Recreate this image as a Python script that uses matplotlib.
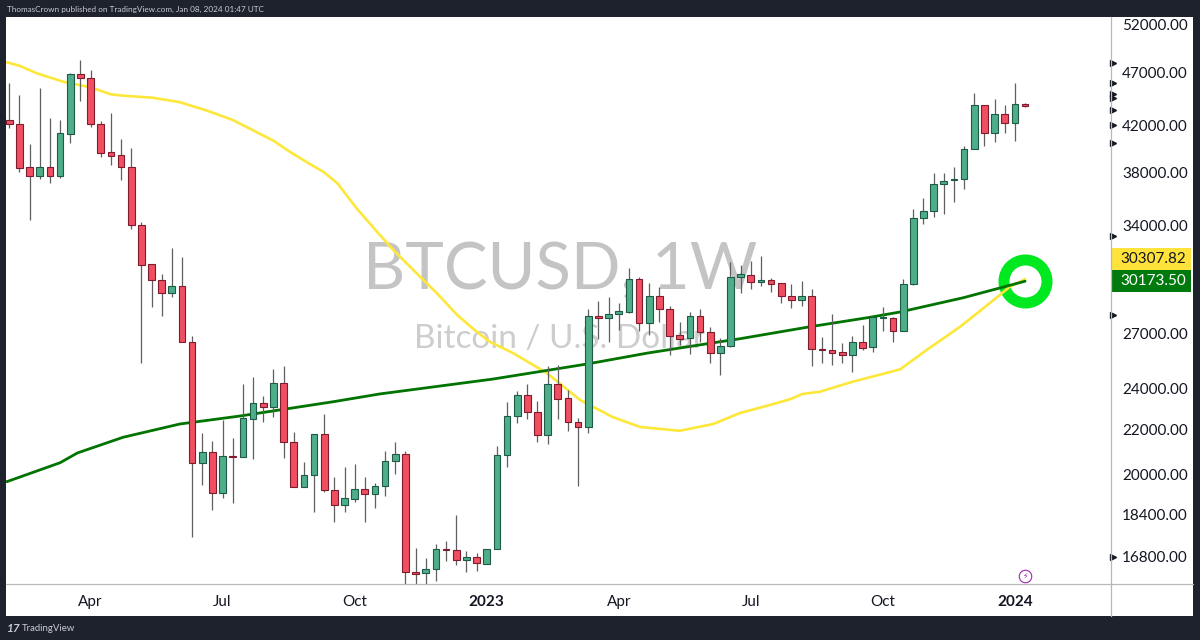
import matplotlib
matplotlib.use("Agg")
import matplotlib.pyplot as plt
from matplotlib.patches import Rectangle
from matplotlib.ticker import NullLocator

plt.rcParams["font.family"] = ["Lato", "DejaVu Sans"]

# weekly candles, Feb 2022 - Jan 2024
opens = [42500, 42110, 38430, 37730, 38430, 37750, 41280, 46860, 46460, 42160,
         39680, 39450, 38480, 33980, 31280, 30250, 29410, 29890, 26520, 20500,
         20990, 19230, 20830, 20760, 22530, 23280, 23110, 24290, 21460, 19500,
         19980, 21800, 19370, 18760, 19010, 19390, 19210, 19530, 20580, 20890,
         16270, 16220, 16380, 17070, 17050, 16690, 16780, 16560, 17070, 20850,
         22660, 23680, 22870, 21750, 24260, 23530, 22380, 22150, 28020, 27920,
         28140, 28280, 30290, 27590, 29220, 28460, 26900, 26720, 28020, 27110,
         25890, 26290, 30460, 30590, 30130, 30230, 30040, 29260, 29010, 29260,
         26140, 26070, 25950, 25780, 26500, 26220, 27900, 27900, 27150, 29980,
         34510, 35000, 37090, 37380, 37460, 39980, 43850, 41370, 43040, 42250,
         43940]
closes = [42110, 38350, 37730, 38430, 37750, 41310, 46860, 46430, 42140, 39650,
          39390, 38460, 33980, 31250, 30250, 29410, 29890, 26520, 20500, 20990,
          19230, 20830, 20770, 22550, 23280, 23110, 24290, 21460, 19500, 19980,
          21800, 19370, 18770, 19020, 19390, 19210, 19530, 20580, 20890, 16260,
          16210, 16380, 17070, 17040, 16700, 16800, 16570, 17070, 20850, 22660,
          23680, 22870, 21750, 24260, 23510, 22380, 22150, 28020, 27920, 28140,
          28320, 30290, 27590, 29220, 28460, 26880, 26700, 28020, 27110, 25890,
          26290, 30460, 30620, 30130, 30230, 30020, 29260, 29010, 29260, 26140,
          26070, 25920, 25780, 26500, 26200, 27940, 27960, 27150, 29980, 34510,
          35000, 37090, 37360, 37480, 39980, 43850, 41370, 43040, 42250, 43940,
          43780]
highs = [45940, 44810, 40360, 45450, 42650, 42500, 46990, 48275, 47260, 42430,
         43110, 40840, 40060, 34240, 31300, 30620, 32400, 31740, 26860, 21840,
         21480, 22470, 21610, 24260, 24630, 23650, 25020, 25200, 21900, 20540,
         21810, 22760, 19920, 20350, 20450, 19920, 19670, 21040, 21440, 21040,
         17110, 16750, 17270, 17390, 18350, 17020, 16930, 17080, 21280, 23330,
         23910, 24240, 23400, 25220, 25250, 23950, 22580, 28440, 28930, 29160,
         28790, 31010, 30460, 30040, 29820, 28640, 27650, 28270, 28460, 27360,
         26720, 31410, 31230, 31500, 31850, 30360, 30040, 30000, 30210, 29660,
         26780, 28140, 26450, 26860, 27490, 28020, 28580, 27940, 30330, 35150,
         35980, 38000, 38000, 38460, 40210, 44980, 43850, 44460, 43850, 45940,
         44030]
lows = [41780, 38050, 34365, 37490, 37200, 37590, 40500, 44280, 41890, 39260,
        38620, 37410, 33710, 25350, 28580, 28020, 29200, 26520, 17530, 19570,
        18560, 19020, 18850, 20760, 20690, 22380, 22630, 20720, 19500, 19500,
        18490, 19300, 18100, 18470, 18890, 18100, 18620, 19130, 20020, 15500,
        15700, 15700, 15970, 16650, 16510, 16260, 16300, 16540, 17070, 20350,
        22310, 22500, 21460, 21340, 22500, 21960, 19540, 21840, 26680, 26500,
        27200, 28190, 27150, 26920, 27690, 25800, 26350, 25840, 26540, 25350,
        24720, 26250, 29410, 29700, 29890, 29510, 28830, 28480, 28630, 25220,
        25350, 25270, 25350, 24900, 26070, 25980, 27160, 26500, 27150, 29930,
        34070, 34560, 34800, 35680, 36720, 39980, 40210, 40530, 41310, 40670,
        43710]

# moving averages, read at the bends of each line
yellow_idx = [-0.25, 1, 2.7, 5.3, 8, 10, 11.2, 14.1, 16.8, 19.5, 22, 26, 27.6,
              29.6, 30.9, 32.3, 34.2, 36.2, 37.8, 40.1, 42.1, 44.1, 46, 47.3,
              49.6, 52.9, 56.2, 59.4, 62.1, 66, 69.3, 71.9, 74.9, 76.9, 78.1,
              79.8, 83, 87.7, 90.3, 93.6, 96.3, 98.5, 100]
yellow_ma = [48040, 47690, 46930, 46100, 45550, 44880, 44750, 44560, 44130,
             43340, 42500, 40670, 39730, 38700, 38080, 37150, 35220, 33520,
             32243, 30685, 29410, 28080, 27110, 26536, 25900, 24830, 23445,
             22610, 22140, 21960, 22280, 22800, 23200, 23490, 23750, 23860,
             24370, 25020, 26070, 27390, 28690, 29820, 30307.82]
green_idx = [-0.25, 5, 6.7, 11.2, 16.8, 22.7, 31.9, 36.5, 47.6, 56.9, 62.8, 70,
             71.9, 78.8, 84.7, 87.7, 93.9, 100]
green_ma = [19710, 20520, 20950, 21660, 22280, 22660, 23360, 23750, 24510, 25310,
            25900, 26536, 26700, 27390, 27944, 28265, 29130, 30173.50]

month_pos = [8, 21, 34, 47, 60, 73, 86, 99]
month_labels = ["Apr", "Jul", "Oct", "2023", "Apr", "Jul", "Oct", "2024"]
price_ticks = [52000, 47000, 42000, 38000, 34000, 27000, 24000, 22000, 20000, 18400, 16800]
arrow_prices = [47970, 45970, 44910, 44525, 43410, 42050, 40470, 33215, 28080, 16795]

UP = "#4FAE8A"
DOWN = "#EF4F61"
UP_EDGE = "#1E5A46"
DOWN_EDGE = "#7E1B2D"

fig = plt.figure(figsize=(12, 6.4), dpi=100, facecolor="#1E222D")

# frame, in pixels
bg = fig.add_axes([0, 0, 1, 1], zorder=0)
bg.set_xlim(0, 1200)
bg.set_ylim(640, 0)
bg.axis("off")
bg.add_patch(Rectangle((6, 17), 1187, 599, fc="white", ec="none"))

ax = fig.add_axes([6 / 1200, (640 - 584) / 640, 1105 / 1200, 567 / 640], zorder=1)
ax.set_yscale("log")
ax.set_xlim(-0.325, 108.46)
ax.set_ylim(15860, 52890)
for s in ax.spines.values():
    s.set_visible(False)

# watermark sits behind everything
ax.text(560 / 1200, (640 - 271) / 640, "BTCUSD, 1W", transform=fig.transFigure,
        ha="center", va="center", fontsize=47, color="#C4C4C4", zorder=0)
ax.text(560 / 1200, (640 - 339) / 640, "Bitcoin / U.S. Dollar", transform=fig.transFigure,
        ha="center", va="center", fontsize=24, color="#CDCDCD", zorder=0)

# ring around the cross
ax.plot(100, 30173.50, "o", ms=31, mfc="none", mec="#00E81F", mew=7.9, zorder=1)

ax.plot(yellow_idx, yellow_ma, color="#FDE73A", lw=1.9, zorder=2, solid_capstyle="round")
ax.plot(green_idx, green_ma, color="#007300", lw=2.0, zorder=3, solid_capstyle="round")

idx = range(len(opens))
up = [c >= o for o, c in zip(opens, closes)]
bottoms = [min(o, c) for o, c in zip(opens, closes)]
heights = [abs(c - o) for o, c in zip(opens, closes)]
ax.vlines(idx, lows, highs, color="#5F5F5F", lw=0.9, zorder=4)
ax.bar(idx, heights, bottom=bottoms, width=0.66,
       color=[UP if u else DOWN for u in up],
       edgecolor=[UP_EDGE if u else DOWN_EDGE for u in up],
       linewidth=0.8, zorder=5)

# small arrows on the price scale
ax.plot([1.0015] * len(arrow_prices), arrow_prices, ">", ms=4.4, color="#131722",
        transform=ax.get_yaxis_transform(), clip_on=False, zorder=6)

# alert icon
ax.plot(100, 16130, "o", ms=9, mfc="white", mec="#9C27B0", mew=0.8, zorder=6)
ax.text(100, 16130, "\u26a1", ha="center", va="center", fontsize=5.5, color="#9C27B0",
        family="DejaVu Sans", zorder=7)

ax.yaxis.tick_right()
ax.set_yticks(price_ticks, [f"{p:.2f}" for p in price_ticks])
ax.yaxis.set_minor_locator(NullLocator())
ax.set_xticks(month_pos, month_labels)
ax.tick_params(axis="both", length=0, labelsize=11, labelcolor="#131722")
ax.tick_params(axis="y", pad=8)
ax.tick_params(axis="x", pad=8)
for lab in ax.get_xticklabels():
    if lab.get_text() in ("2023", "2024"):
        lab.set_fontweight("bold")

# axis rules and the two last-value tags
top = fig.add_axes([0, 0, 1, 1], zorder=2)
top.set_xlim(0, 1200)
top.set_ylim(640, 0)
top.axis("off")
top.patch.set_alpha(0)
top.plot([6, 1193], [584, 584], color="#B8B8B8", lw=0.9)
top.plot([1111, 1111], [17, 616], color="#B8B8B8", lw=0.9)
top.add_patch(Rectangle((1111, 248), 80, 22, fc="#FFE33B", ec="none"))
top.add_patch(Rectangle((1111, 270), 80, 22, fc="#007A0C", ec="none"))
top.text(1153.5, 259, "30307.82", ha="center", va="center", fontsize=11, color="#131722")
top.text(1153.5, 281, "30173.50", ha="center", va="center", fontsize=11, color="white")

# header and footer
top.text(7, 9, "ThomasCrown published on TradingView.com, Jan 08, 2024 01:47 UTC",
         ha="left", va="center", fontsize=5.9, color="#C8CBD2")
top.text(6.5, 628.5, "17", ha="left", va="center", fontsize=8.5, fontweight="bold",
         fontstyle="italic", color="#C8CBD2")
top.text(22, 628.5, "TradingView", ha="left", va="center", fontsize=6.9, color="#C8CBD2")

fig.savefig("out.png", dpi=100, facecolor=fig.get_facecolor())
